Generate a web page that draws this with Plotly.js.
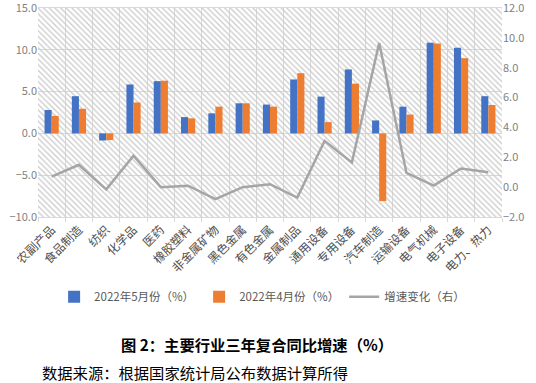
<!DOCTYPE html>
<html><head><meta charset="utf-8">
<script src="https://cdn.plot.ly/plotly-3.0.1.min.js"></script>
<style>html,body{margin:0;padding:0;background:#fff;}#c{width:536px;height:383px;}</style>
</head><body><div id="c"></div>
<script>
const categories = ["农副产品","食品制造","纺织","化学品","医药","橡胶塑料","非金属矿物","黑色金属","有色金属","金属制品","通用设备","专用设备","汽车制造","运输设备","电气机械","电子设备","电力、热力"];
const may2022 = [2.8,4.45,-0.85,5.85,6.25,1.95,2.4,3.6,3.45,6.45,4.4,7.65,1.55,3.2,10.85,10.25,4.45];
const apr2022 = [2.1,2.95,-0.8,3.7,6.3,1.8,3.2,3.6,3.2,7.2,1.35,5.95,-8.1,2.25,10.75,9.0,3.4];
const change = [0.7,1.5,-0.15,2.1,0.0,0.1,-0.8,0.0,0.2,-0.7,3.1,1.65,9.65,0.95,0.1,1.25,1.0];
const seriesNames = ["2022年5月份（%）","2022年4月份（%）","增速变化（右）"];
const leftTicks = [-10,-5,0,5,10,15];
const rightTicks = [-2,0,2,4,6,8,10,12];

const font = "Noto Sans CJK SC, sans-serif";

const traces = [
  // hatched plot-area background (decoration), on hidden unit axes
  {type:'bar', x:[0], y:[1], width:[1], base:[0], xaxis:'x', yaxis:'y', showlegend:false, hoverinfo:'skip',
   marker:{color:'rgba(255,255,255,0)', line:{width:0}, pattern:{shape:'\\', fgcolor:'#c9c9c9', bgcolor:'rgba(255,255,255,0)', size:4, solidity:0.3, fillmode:'replace'}}},
  {type:'bar', name:seriesNames[0], x:categories, y:may2022, xaxis:'x2', yaxis:'y2', marker:{color:'#4472C4'}},
  {type:'bar', name:seriesNames[1], x:categories, y:apr2022, xaxis:'x2', yaxis:'y2', marker:{color:'#ED7D31'}},
  {type:'scatter', mode:'lines', name:seriesNames[2], x:categories, y:change, xaxis:'x2', yaxis:'y3', line:{color:'#A5A5A5', width:2.5}}
];
const layout = {
  width:536, height:383,
  margin:{l:38, r:34, t:8, b:166},
  paper_bgcolor:'#fff', plot_bgcolor:'#fff',
  font:{family:font, size:11, color:'#595959'},
  barmode:'group', bargap:0.48, bargroupgap:0,
  showlegend:true,
  legend:{orientation:'h', x:0.483, xanchor:'center', y:-0.381, yanchor:'middle', font:{size:11.5, color:'#595959'}, itemwidth:30, tracegroupgap:0, traceorder:'normal', bgcolor:'rgba(0,0,0,0)'},
  xaxis:{type:'linear', range:[-0.5,0.5], showgrid:false, zeroline:false, showticklabels:false, ticks:'', showline:false, fixedrange:true},
  yaxis:{type:'linear', range:[0,1], showgrid:false, zeroline:false, showticklabels:false, ticks:'', showline:false, fixedrange:true},
  xaxis2:{type:'category', overlaying:'x', anchor:'y2', side:'bottom', tickson:'boundaries', showgrid:true, gridcolor:'#d9d9d9', gridwidth:1, ticks:'outside', ticklen:4, tickcolor:'#d9d9d9', tickangle:-45, tickfont:{size:12, color:'#505050'}, showline:true, mirror:true, linecolor:'#d9d9d9', zeroline:false},
  yaxis2:{range:[-10,15], overlaying:'y', anchor:'x2', side:'left', tickvals:leftTicks, tickformat:'.1f', ticklabeloverflow:'allow', showgrid:true, gridcolor:'#d9d9d9', zeroline:false, tickfont:{size:11, color:'#7f7f7f'}, showline:false},
  yaxis3:{range:[-2,12], overlaying:'y', anchor:'x2', side:'right', tickvals:rightTicks, tickformat:'.1f', ticklabeloverflow:'allow', showgrid:false, zeroline:false, tickfont:{size:11, color:'#7f7f7f'}},
  annotations:[
    {text:'<b>图 2：主要行业三年复合同比增速（%）</b>', xref:'paper', yref:'paper', x:0.473, y:-0.61, xanchor:'center', yanchor:'middle', showarrow:false, font:{family:font, size:15.3, color:'#000'}},
    {text:'数据来源：根据国家统计局公布数据计算所得', xref:'paper', yref:'paper', x:0.004, y:-0.743, xanchor:'left', yanchor:'middle', showarrow:false, font:{family:font, size:15.3, color:'#000'}}
  ]
};
Plotly.newPlot('c', traces, layout, {displayModeBar:false, staticPlot:true});
</script></body></html>
